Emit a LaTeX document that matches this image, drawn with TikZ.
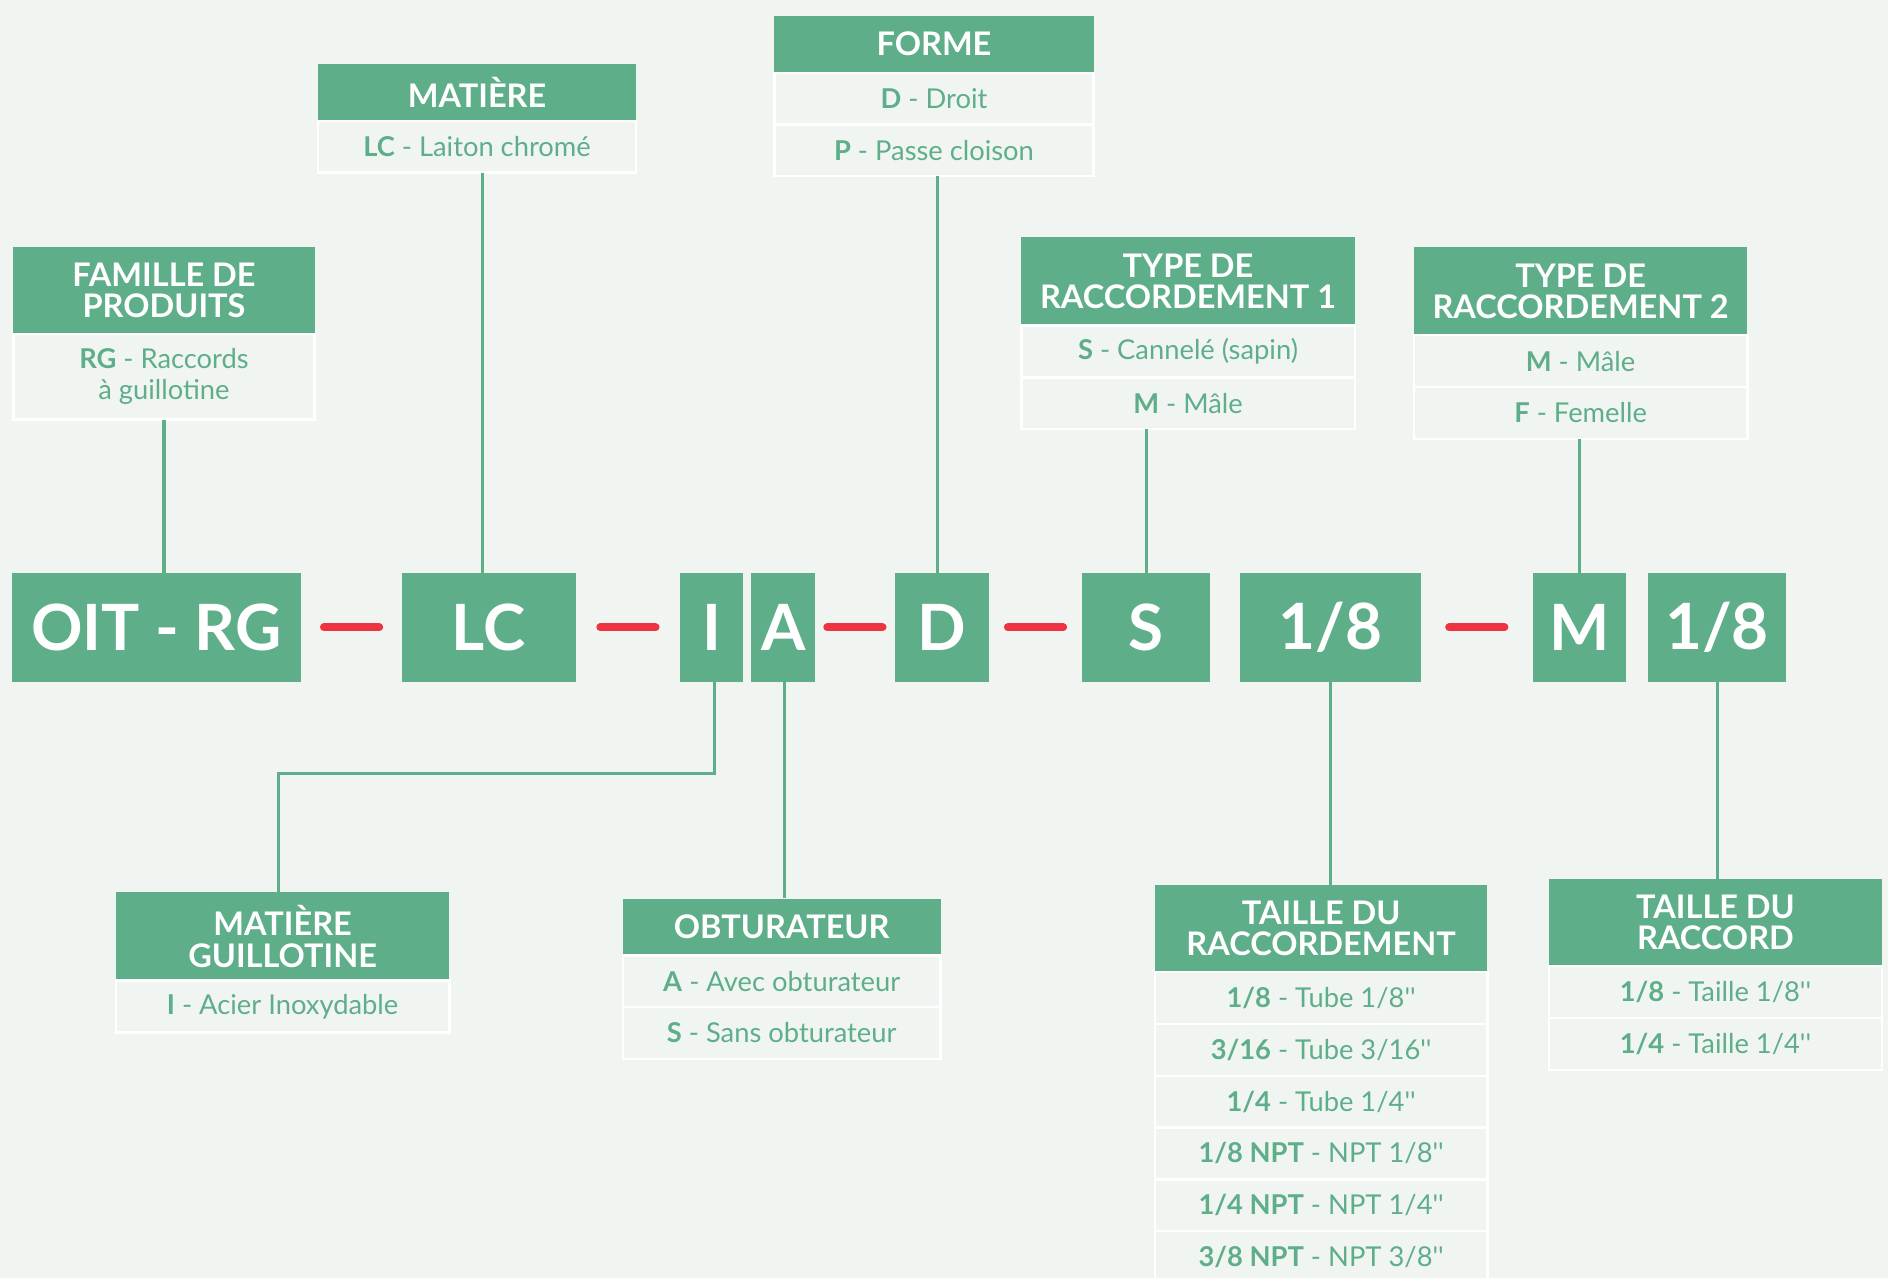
\documentclass[tikz,border=0pt]{standalone}
\usepackage{fontspec}
\setmainfont{Lato}
\definecolor{oitgreen}{HTML}{5EAE8A}
\definecolor{oitred}{HTML}{EE3443}
\definecolor{oitbg}{HTML}{F1F5F2}
\usetikzlibrary{positioning,calc}

\begin{document}
\begin{tikzpicture}[x=1pt,y=-1pt,node distance=0pt,every node/.style={align=center,inner sep=0pt},
    head/.style={fill=oitgreen,text=white,font=\fontsize{27}{26}\selectfont\bfseries,minimum height=47pt,anchor=north west},
    entry/.style={draw=white,line width=2pt,outer sep=0pt,text=oitgreen,font=\fontsize{22.7}{26}\selectfont,minimum height=43pt},
    code/.style={fill=oitgreen,text=white,font=\fontsize{53}{53}\selectfont\bfseries,minimum height=90pt,outer sep=0pt},
    link/.style={draw=oitgreen,line width=2.5pt},
    sep/.style={draw=oitred,line width=6.5pt,line cap=round}]
  \useasboundingbox (0,0) rectangle (1568,1061);
  \fill[oitbg] (0,0) rectangle (1568,1061);
  % code row
  \node[code,minimum width=240pt] (oit) at (130,521) {OIT - RG};
  \node[code,minimum width=144pt,right=84pt of oit] (lc) {LC};
  \node[code,minimum width=52pt,right=87pt of lc] (i) {I};
  \node[code,minimum width=53pt,right=7pt of i] (a) {A};
  \node[code,minimum width=78pt,right=66pt of a] (d) {D};
  \node[code,minimum width=106pt,right=78pt of d] (s) {S};
  \node[code,minimum width=150pt,right=25pt of s] (t1) {1/8};
  \node[code,minimum width=77pt,right=93pt of t1] (m) {M};
  \node[code,minimum width=114pt,right=19pt of m] (t2) {1/8};
  \foreach \p/\q in {oit/lc,lc/i,a/d,d/s,t1/m}
    \draw[sep] ($(\p.east)!0.5!(\q.west)$) ++(-23,0) -- ++(46,0);
  % upper tables
  \node[head,minimum width=250pt,minimum height=72pt] (famh) at (11,205) {FAMILLE DE\\PRODUITS};
  \node[entry,minimum width=250pt,minimum height=71pt,below=of famh] (fam1) {\textbf{RG} - Raccords\\à guillotine};
  \node[head,minimum width=264pt] (math) at (264,53) {MATIÈRE};
  \node[entry,minimum width=264pt,below=of math] (mat1) {\textbf{LC} - Laiton chromé};
  \node[head,minimum width=265pt] (formh) at (643,13) {FORME};
  \node[entry,minimum width=265pt,below=of formh] (form1) {\textbf{D} - Droit};
  \node[entry,minimum width=265pt,below=of form1] (form2) {\textbf{P} - Passe cloison};
  \node[head,minimum width=277pt,minimum height=73pt] (typah) at (848,197) {TYPE DE\\RACCORDEMENT 1};
  \node[entry,minimum width=277pt,below=of typah] (typa1) {\textbf{S} - Cannelé (sapin)};
  \node[entry,minimum width=277pt,below=of typa1] (typa2) {\textbf{M} - Mâle};
  \node[head,minimum width=277pt,minimum height=73pt] (typbh) at (1174,205) {TYPE DE\\RACCORDEMENT 2};
  \node[entry,minimum width=277pt,below=of typbh] (typb1) {\textbf{M} - Mâle};
  \node[entry,minimum width=277pt,below=of typb1] (typb2) {\textbf{F} - Femelle};
  % lower tables
  \node[head,minimum width=277pt,minimum height=73pt] (matgh) at (96,741) {MATIÈRE\\GUILLOTINE};
  \node[entry,minimum width=277pt,below=of matgh] (matg1) {\textbf{I} - Acier Inoxydable};
  \node[head,minimum width=264pt] (obth) at (517,746) {OBTURATEUR};
  \node[entry,minimum width=264pt,below=of obth] (obt1) {\textbf{A} - Avec obturateur};
  \node[entry,minimum width=264pt,below=of obt1] (obt2) {\textbf{S} - Sans obturateur};
  \node[head,minimum width=276pt,minimum height=72pt] (trh) at (959,735) {TAILLE DU\\RACCORDEMENT};
  \node[entry,minimum width=276pt,below=of trh] (tr1) {\textbf{1/8} - Tube 1/8\textquotesingle\textquotesingle};
  \node[entry,minimum width=276pt,below=of tr1] (tr2) {\textbf{3/16} - Tube 3/16\textquotesingle\textquotesingle};
  \node[entry,minimum width=276pt,below=of tr2] (tr3) {\textbf{1/4} - Tube 1/4\textquotesingle\textquotesingle};
  \node[entry,minimum width=276pt,below=of tr3] (tr4) {\textbf{1/8 NPT} - NPT 1/8\textquotesingle\textquotesingle};
  \node[entry,minimum width=276pt,below=of tr4] (tr5) {\textbf{1/4 NPT} - NPT 1/4\textquotesingle\textquotesingle};
  \node[entry,minimum width=276pt,below=of tr5] (tr6) {\textbf{3/8 NPT} - NPT 3/8\textquotesingle\textquotesingle};
  \node[head,minimum width=277pt,minimum height=72pt] (tdrh) at (1286,730) {TAILLE DU\\RACCORD};
  \node[entry,minimum width=277pt,below=of tdrh] (tdr1) {\textbf{1/8} - Taille 1/8\textquotesingle\textquotesingle};
  \node[entry,minimum width=277pt,below=of tdr1] (tdr2) {\textbf{1/4} - Taille 1/4\textquotesingle\textquotesingle};
  % links
  \draw[link] (fam1.south) -- (fam1.south |- oit.north);
  \draw[link] ([xshift=-5pt]lc.north) -- ([xshift=-5pt]lc.north |- mat1.south);
  \draw[link] ([xshift=-3pt]d.north) -- ([xshift=-3pt]d.north |- form2.south);
  \draw[link] (s.north) -- (s.north |- typa2.south);
  \draw[link] (m.north) -- (m.north |- typb2.south);
  \draw[link] ([xshift=2pt]i.south) -- ++(0,76) -| ([xshift=-3pt]matgh.north);
  \draw[link] ([xshift=1pt]a.south) -- ([xshift=1pt]a.south |- obth.north);
  \draw[link] (t1.south) -- (t1.south |- trh.north);
  \draw[link] (t2.south) -- (t2.south |- tdrh.north);
\end{tikzpicture}
\end{document}
